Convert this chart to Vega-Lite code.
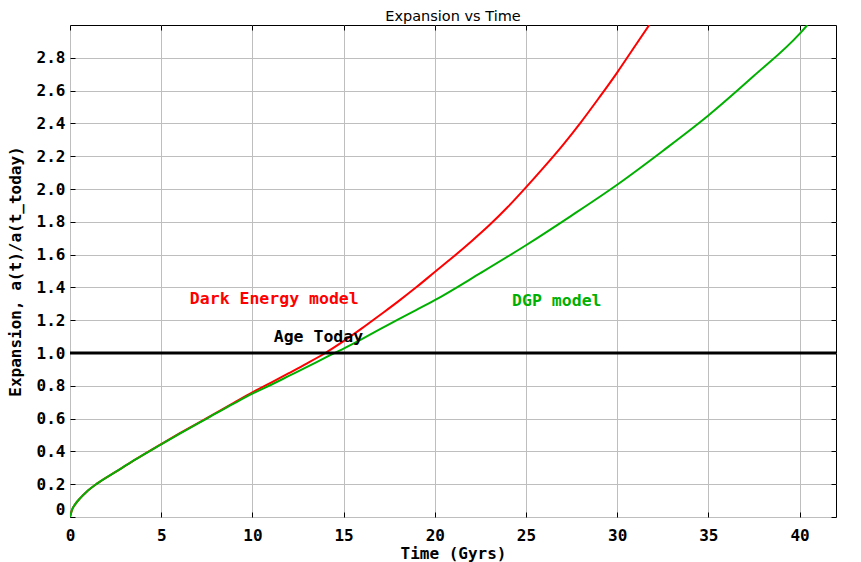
{
  "$schema": "https://vega.github.io/schema/vega-lite/v6.json",
  "description": "Expansion of the universe versus time, dark energy vs DGP model.",
  "autosize": "none",
  "width": 766,
  "height": 492,
  "padding": {"left": 70, "top": 25, "right": 25, "bottom": 45},
  "background": "white",
  "title": {
    "text": "Expansion vs Time",
    "font": "DejaVu Sans",
    "fontSize": 14.5,
    "fontWeight": "normal",
    "color": "black",
    "anchor": "middle",
    "offset": 0
  },
  "datasets": {
    "curves": [
      {"t": 0, "a": 0, "model": "Dark Energy model"},
      {"t": 0.1, "a": 0.04, "model": "Dark Energy model"},
      {"t": 0.3, "a": 0.08, "model": "Dark Energy model"},
      {"t": 0.6, "a": 0.12, "model": "Dark Energy model"},
      {"t": 0.9, "a": 0.153, "model": "Dark Energy model"},
      {"t": 1.5, "a": 0.205, "model": "Dark Energy model"},
      {"t": 2.5, "a": 0.275, "model": "Dark Energy model"},
      {"t": 3.5, "a": 0.345, "model": "Dark Energy model"},
      {"t": 5, "a": 0.445, "model": "Dark Energy model"},
      {"t": 6, "a": 0.51, "model": "Dark Energy model"},
      {"t": 7.5, "a": 0.603, "model": "Dark Energy model"},
      {"t": 9, "a": 0.698, "model": "Dark Energy model"},
      {"t": 10, "a": 0.76, "model": "Dark Energy model"},
      {"t": 11, "a": 0.818, "model": "Dark Energy model"},
      {"t": 12, "a": 0.877, "model": "Dark Energy model"},
      {"t": 13, "a": 0.937, "model": "Dark Energy model"},
      {"t": 14, "a": 1.0, "model": "Dark Energy model"},
      {"t": 15, "a": 1.072, "model": "Dark Energy model"},
      {"t": 16, "a": 1.15, "model": "Dark Energy model"},
      {"t": 17, "a": 1.232, "model": "Dark Energy model"},
      {"t": 18, "a": 1.315, "model": "Dark Energy model"},
      {"t": 19, "a": 1.402, "model": "Dark Energy model"},
      {"t": 20, "a": 1.494, "model": "Dark Energy model"},
      {"t": 21, "a": 1.585, "model": "Dark Energy model"},
      {"t": 22, "a": 1.68, "model": "Dark Energy model"},
      {"t": 23, "a": 1.78, "model": "Dark Energy model"},
      {"t": 24, "a": 1.89, "model": "Dark Energy model"},
      {"t": 25, "a": 2.01, "model": "Dark Energy model"},
      {"t": 26, "a": 2.135, "model": "Dark Energy model"},
      {"t": 27, "a": 2.265, "model": "Dark Energy model"},
      {"t": 28, "a": 2.405, "model": "Dark Energy model"},
      {"t": 29, "a": 2.555, "model": "Dark Energy model"},
      {"t": 30, "a": 2.71, "model": "Dark Energy model"},
      {"t": 31, "a": 2.875, "model": "Dark Energy model"},
      {"t": 31.76, "a": 3.0, "model": "Dark Energy model"},
      {"t": 0, "a": 0, "model": "DGP model"},
      {"t": 0.1, "a": 0.04, "model": "DGP model"},
      {"t": 0.3, "a": 0.08, "model": "DGP model"},
      {"t": 0.6, "a": 0.12, "model": "DGP model"},
      {"t": 0.9, "a": 0.153, "model": "DGP model"},
      {"t": 1.5, "a": 0.205, "model": "DGP model"},
      {"t": 2.5, "a": 0.275, "model": "DGP model"},
      {"t": 3.5, "a": 0.345, "model": "DGP model"},
      {"t": 5, "a": 0.443, "model": "DGP model"},
      {"t": 6, "a": 0.507, "model": "DGP model"},
      {"t": 7.5, "a": 0.6, "model": "DGP model"},
      {"t": 9, "a": 0.693, "model": "DGP model"},
      {"t": 10, "a": 0.752, "model": "DGP model"},
      {"t": 11, "a": 0.805, "model": "DGP model"},
      {"t": 12, "a": 0.86, "model": "DGP model"},
      {"t": 13, "a": 0.915, "model": "DGP model"},
      {"t": 14, "a": 0.972, "model": "DGP model"},
      {"t": 15, "a": 1.027, "model": "DGP model"},
      {"t": 16, "a": 1.085, "model": "DGP model"},
      {"t": 17, "a": 1.145, "model": "DGP model"},
      {"t": 18, "a": 1.205, "model": "DGP model"},
      {"t": 19, "a": 1.263, "model": "DGP model"},
      {"t": 20, "a": 1.322, "model": "DGP model"},
      {"t": 22.5, "a": 1.487, "model": "DGP model"},
      {"t": 25, "a": 1.657, "model": "DGP model"},
      {"t": 27.5, "a": 1.838, "model": "DGP model"},
      {"t": 30, "a": 2.026, "model": "DGP model"},
      {"t": 32.5, "a": 2.232, "model": "DGP model"},
      {"t": 35, "a": 2.448, "model": "DGP model"},
      {"t": 37.5, "a": 2.69, "model": "DGP model"},
      {"t": 40, "a": 2.946, "model": "DGP model"},
      {"t": 40.43, "a": 3.0, "model": "DGP model"}
    ],
    "labels": [
      {"t": 6.57, "a": 1.3, "label": "Dark Energy model", "model": "Dark Energy model"},
      {"t": 24.24, "a": 1.285, "label": "DGP model", "model": "DGP model"},
      {"t": 11.17, "a": 1.068, "label": "Age Today", "model": "Age Today"}
    ],
    "today": [
      {"a": 1}
    ]
  },
  "layer": [
    {
      "data": {"name": "curves"},
      "mark": {"type": "line", "strokeWidth": 2, "clip": true, "interpolate": "monotone"},
      "encoding": {
        "x": {
          "field": "t",
          "type": "quantitative",
          "title": "Time (Gyrs)",
          "scale": {"domain": [0, 42], "nice": false},
          "axis": {"orient": "bottom", "values": [0, 5, 10, 15, 20, 25, 30, 35, 40], "format": "d", "labelFlush": false}
        },
        "y": {
          "field": "a",
          "type": "quantitative",
          "title": "Expansion, a(t)/a(t_today)",
          "scale": {"domain": [0, 3], "nice": false},
          "axis": {
            "orient": "left",
            "values": [0, 0.2, 0.4, 0.6, 0.8, 1, 1.2, 1.4, 1.6, 1.8, 2, 2.2, 2.4, 2.6, 2.8],
            "labelExpr": "datum.value == 0 ? '0' : format(datum.value, '.1f')",
            "labelFlush": true
          }
        },
        "color": {
          "field": "model",
          "type": "nominal",
          "scale": {"domain": ["Dark Energy model", "DGP model", "Age Today"], "range": ["#ff0000", "#00b000", "#000000"]},
          "legend": null
        }
      }
    },
    {
      "data": {"name": "today"},
      "mark": {"type": "rule", "color": "black", "strokeWidth": 3},
      "encoding": {
        "y": {"field": "a", "type": "quantitative", "axis": null}
      }
    },
    {
      "data": {"name": "labels"},
      "mark": {"type": "text", "align": "left", "baseline": "alphabetic", "font": "DejaVu Sans Mono", "fontSize": 16.5, "fontWeight": "bold"},
      "encoding": {
        "x": {
          "field": "t",
          "type": "quantitative",
          "axis": {"orient": "top", "values": [0, 5, 10, 15, 20, 25, 30, 35, 40], "labels": false, "grid": false, "title": null}
        },
        "y": {
          "field": "a",
          "type": "quantitative",
          "axis": {"orient": "right", "values": [0, 0.2, 0.4, 0.6, 0.8, 1, 1.2, 1.4, 1.6, 1.8, 2, 2.2, 2.4, 2.6, 2.8], "labels": false, "grid": false, "title": null}
        },
        "color": {"field": "model", "type": "nominal", "legend": null},
        "text": {"field": "label"}
      }
    }
  ],
  "resolve": {"axis": {"x": "independent", "y": "independent"}},
  "config": {
    "view": {"stroke": "black", "strokeWidth": 1},
    "axis": {
      "domain": false,
      "grid": true,
      "gridColor": "#bebebe",
      "gridWidth": 1,
      "gridOpacity": 1,
      "ticks": true,
      "tickColor": "black",
      "tickSize": -5,
      "labelFont": "DejaVu Sans Mono",
      "labelFontSize": 16,
      "labelFontWeight": "bold",
      "labelColor": "black",
      "titleFont": "DejaVu Sans Mono",
      "titleFontSize": 16,
      "titleFontWeight": "bold",
      "titleColor": "black"
    },
    "axisBottom": {"labelPadding": 15, "titlePadding": 2},
    "axisLeft": {"labelPadding": 10, "titlePadding": 13}
  }
}
